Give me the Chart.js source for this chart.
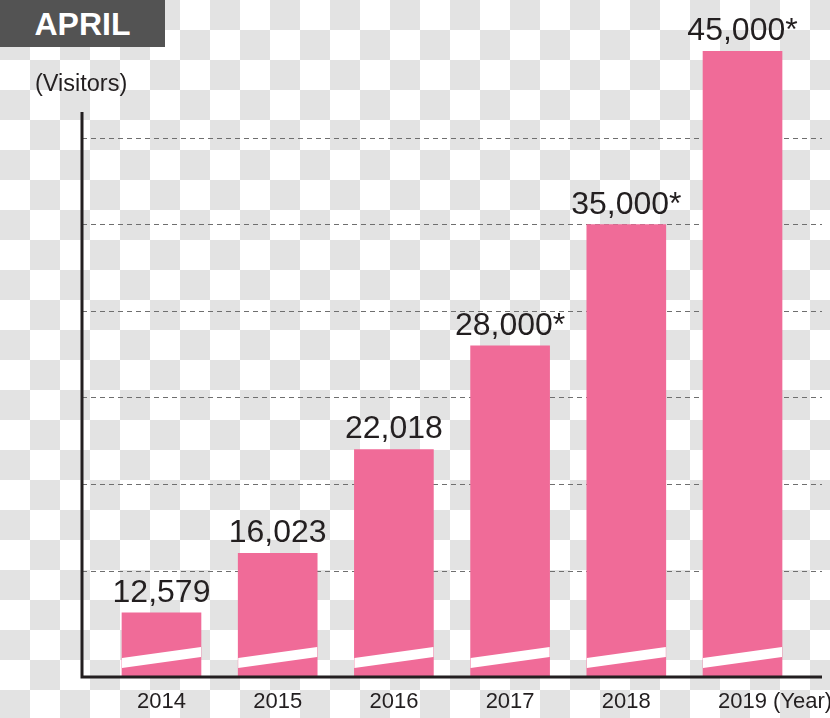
<!DOCTYPE html>
<html>
<head>
<meta charset="utf-8">
<script src="https://cdn.jsdelivr.net/npm/chart.js@4/dist/chart.umd.min.js"></script>
<style>
    html, body {
        margin: 0;
        padding: 0;
    }
    body {
        width: 830px;
        height: 718px;
        overflow: hidden;
        position: relative;
        background: repeating-conic-gradient(#e3e3e3 0% 25%, #ffffff 0% 50%) 0 0 / 60px 60px;
        font-family: "Liberation Sans", Arial, sans-serif;
    }
    #chartBox {
        position: absolute;
        left: 0;
        top: 0;
        width: 830px;
        height: 718px;
    }
    #monthTitle {
        position: absolute;
        left: 0;
        top: 0;
        width: 165px;
        height: 47px;
        line-height: 49px;
        background: #535353;
        color: #ffffff;
        font-weight: bold;
        font-size: 32px;
        text-align: center;
    }
    #unitLabel {
        position: absolute;
        left: 35px;
        top: 70px;
        font-size: 23.5px;
        line-height: 26px;
        color: #231f20;
    }
</style>
</head>
<body>
<div id="chartBox"><canvas id="visitorsChart"></canvas></div>
<div id="monthTitle">APRIL</div>
<div id="unitLabel">(Visitors)</div>

<script>
// Данные графика
const years = [2014, 2015, 2016, 2017, 2018, 2019];
const visitors = [12579, 16023, 22018, 28000, 35000, 45000];
const estimated = [false, false, false, true, true, true];
const gridValues = [15000, 20000, 25000, 30000, 35000, 40000];
const yMin = 8880;
const yMax = 47970;
const yAxisTop = 41500;
const xUnit = '(Year)';

const inkColor = '#231f20';
const barColor = '#f06b98';

//Подпись значения над столбцом
function valueLabel(i) {
    return visitors[i].toLocaleString('en-US') + (estimated[i] ? '*' : '');
}

//Подписи, разрывы столбцов и оси
const decorPlugin = {
    id: 'decor',
    afterDatasetsDraw(chart) {
        const ctx = chart.ctx;
        const area = chart.chartArea;
        const meta = chart.getDatasetMeta(0);

        ctx.save();
        // белые полосы разрыва внизу столбцов
        ctx.fillStyle = '#ffffff';
        meta.data.forEach(function (bar) {
            let w = bar.width / 2;
            let b = area.bottom;
            ctx.beginPath();
            ctx.moveTo(bar.x - w, b - 9);
            ctx.lineTo(bar.x - w, b - 19);
            ctx.lineTo(bar.x + w, b - 30);
            ctx.lineTo(bar.x + w, b - 20);
            ctx.closePath();
            ctx.fill();
        });

        // значения над столбцами
        ctx.fillStyle = inkColor;
        ctx.font = '32px "Liberation Sans", Arial, sans-serif';
        ctx.textAlign = 'center';
        ctx.textBaseline = 'alphabetic';
        meta.data.forEach(function (bar, i) {
            ctx.fillText(valueLabel(i), bar.x, bar.y - 11);
        });

        // оси
        const yScale = chart.scales.y;
        ctx.strokeStyle = inkColor;
        ctx.lineWidth = 3;
        ctx.beginPath();
        ctx.moveTo(area.left, yScale.getPixelForValue(yAxisTop));
        ctx.lineTo(area.left, area.bottom + 1.5);
        ctx.moveTo(area.left - 1.5, area.bottom);
        ctx.lineTo(area.right, area.bottom);
        ctx.stroke();

        // единица измерения после последнего года
        const xScale = chart.scales.x;
        ctx.font = '22px "Liberation Sans", Arial, sans-serif';
        ctx.textAlign = 'left';
        ctx.textBaseline = 'middle';
        let lastX = xScale.getPixelForValue(years[years.length - 1]);
        let lastW = ctx.measureText(String(years[years.length - 1])).width;
        ctx.fillText(xUnit, lastX + lastW / 2 + 6, area.bottom + 25);
        ctx.restore();
    }
};

document.addEventListener('DOMContentLoaded', () => {
    new Chart(
        document.getElementById('visitorsChart'),
        {
            type: 'bar',
            data: {
                datasets: [
                    {
                        data: years.map((y, i) => ({ x: y, y: visitors[i] })),
                        backgroundColor: barColor,
                        borderWidth: 0,
                        barThickness: 79,
                        base: yMin
                    }
                ]
            },
            options: {
                responsive: true,
                maintainAspectRatio: false,
                animation: false,
                layout: {
                    padding: { left: 82, right: 8, top: 0, bottom: 0 }
                },
                plugins: {
                    legend: { display: false },
                    title: { display: false },
                    tooltip: { enabled: false }
                },
                scales: {
                    x: {
                        type: 'linear',
                        offset: false,
                        min: 2013.316,
                        max: 2019.684,
                        afterBuildTicks: (scale) => {
                            scale.ticks = years.map(v => ({ value: v }));
                        },
                        afterFit: (scale) => {
                            scale.height = 41;
                        },
                        grid: { display: false, drawTicks: false, offset: false },
                        border: { display: false },
                        ticks: {
                            color: inkColor,
                            padding: 12,
                            maxRotation: 0,
                            autoSkip: false,
                            font: { family: '"Liberation Sans", Arial, sans-serif', size: 22 },
                            callback: (v) => String(v)
                        }
                    },
                    y: {
                        min: yMin,
                        max: yMax,
                        afterBuildTicks: (scale) => {
                            scale.ticks = gridValues.map(v => ({ value: v }));
                        },
                        afterFit: (scale) => {
                            scale.width = 0;
                        },
                        grid: {
                            drawTicks: false,
                            lineWidth: 1,
                            color: '#6f6f6f',
                            borderDash: [5, 4]
                        },
                        border: { display: false, dash: [5, 4] },
                        ticks: { display: false }
                    }
                }
            },
            plugins: [decorPlugin]
        }
    );
});
</script>
</body>
</html>
